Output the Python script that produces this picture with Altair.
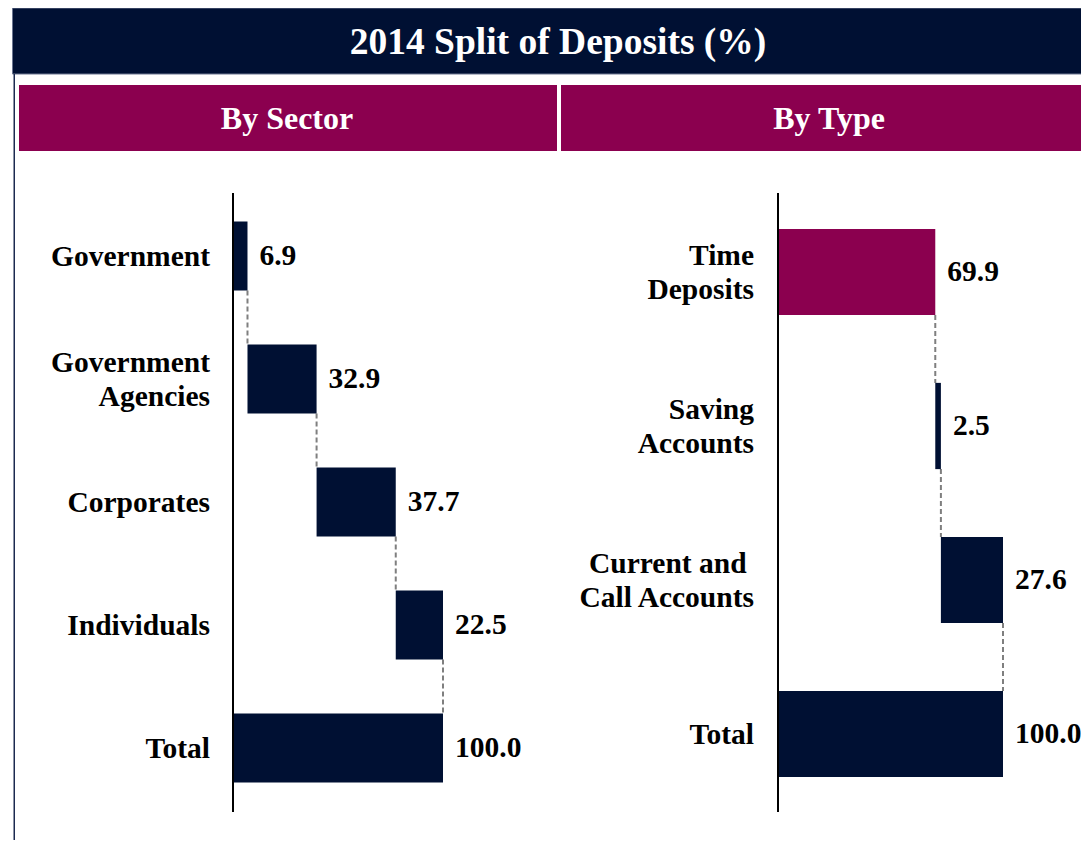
import altair as alt
import pandas as pd

# ---------------- data ----------------
sector_cats = ["Government", "Government\nAgencies", "Corporates", "Individuals", "Total"]
sector_vals = [6.9, 32.9, 37.7, 22.5, 100.0]

type_cats = ["Time\nDeposits", "Saving\nAccounts", "Current and\u00a0\u200b\nCall Accounts", "Total"]
type_vals = [69.9, 2.5, 27.6, 100.0]
type_highlight = [True, False, False, False]

NAVY = "#001033"
MAROON = "#8b004f"
FONT = "Liberation Serif"
HALF = 0.28
FS = 29.5


def waterfall_frames(cats, vals, highlight=None):
    rows, conns = [], []
    run = 0.0
    n = len(cats)
    for i, (c, v) in enumerate(zip(cats, vals)):
        if i == n - 1:
            s, e = 0.0, v
        else:
            s, e = run, run + v
            run = e
        col = MAROON if (highlight and highlight[i]) else NAVY
        rows.append(dict(idx=i, cat=c, start=s, end=e, lo=i - HALF, hi=i + HALF,
                         label=f"{v:.1f}", color=col, nl=c.count("\n") + 1))
    for i in range(n - 1):
        conns.append(dict(x=rows[i]["end"], y=i + HALF, y2=i + 1 - HALF))
    return pd.DataFrame(rows), pd.DataFrame(conns)


def panel(cats, vals, xrange, yrange, highlight=None, label_dx=-23):
    df, cf = waterfall_frames(cats, vals, highlight)
    n = len(cats)
    xs = alt.Scale(domain=[0, 100], range=xrange, nice=False, zero=False)
    ys = alt.Scale(domain=[-0.5, n - 0.5], range=yrange, nice=False, zero=False)

    conn = alt.Chart(cf).mark_rule(color="#7f7f7f", strokeWidth=2, strokeDash=[5, 3]).encode(
        x=alt.X("x:Q", scale=xs, axis=None),
        y=alt.Y("y:Q", scale=ys, axis=None),
        y2="y2:Q",
    )
    bars = alt.Chart(df).mark_rect().encode(
        x=alt.X("start:Q", scale=xs, axis=None),
        x2="end:Q",
        y=alt.Y("lo:Q", scale=ys, axis=None),
        y2="hi:Q",
        color=alt.Color("color:N", scale=None, legend=None),
    )
    axis_line = alt.Chart(pd.DataFrame({"z": [0]})).mark_rule(color="black", strokeWidth=2).encode(
        x=alt.X("z:Q", scale=xs, axis=None),
        y=alt.value(185),
        y2=alt.value(804),
    )
    values = alt.Chart(df).mark_text(
        align="left", baseline="middle", dx=12, font=FONT, fontSize=FS, fontWeight="bold", color="black"
    ).encode(
        x=alt.X("end:Q", scale=xs, axis=None),
        y=alt.Y("idx:Q", scale=ys, axis=None),
        text="label:N",
    )
    layers = [conn, bars, axis_line, values]
    for nl, dy in [(1, 1), (2, -16)]:
        layers.append(
            alt.Chart(df).transform_filter(alt.datum.nl == nl).mark_text(
                align="right", baseline="middle", dx=label_dx, dy=dy, font=FONT, fontSize=FS,
                fontWeight="bold", color="black", lineBreak="\n", lineHeight=34
            ).encode(
                x=alt.datum(0, scale=xs),
                y=alt.Y("idx:Q", scale=ys, axis=None),
                text="cat:N",
            )
        )
    return alt.layer(*layers)


one = pd.DataFrame({"a": [0]})

W, H = 1073, 832

title_bar = alt.Chart(one).mark_rect(color=NAVY, stroke="#6b7590", strokeWidth=1).encode(
    x=alt.value(4.5), x2=alt.value(W + 4), y=alt.value(0), y2=alt.value(66)
)
left_border = alt.Chart(one).mark_rect(color="#1c2a50").encode(
    x=alt.value(5.5), x2=alt.value(7), y=alt.value(66), y2=alt.value(H + 8)
)
head_left = alt.Chart(one).mark_rect(color=MAROON).encode(
    x=alt.value(11), x2=alt.value(549), y=alt.value(77), y2=alt.value(143)
)
head_right = alt.Chart(one).mark_rect(color=MAROON).encode(
    x=alt.value(553), x2=alt.value(W + 4), y=alt.value(77), y2=alt.value(143)
)
title_text = alt.Chart(one).mark_text(
    font=FONT, fontSize=37.5, fontWeight="bold", color="white", align="center", baseline="middle"
).encode(x=alt.value(550), y=alt.value(35), text=alt.value("2014 Split of Deposits (%)"))
head_left_text = alt.Chart(one).mark_text(
    font=FONT, fontSize=32, fontWeight="bold", color="white", align="center", baseline="middle"
).encode(x=alt.value(279), y=alt.value(111), text=alt.value("By Sector"))
head_right_text = alt.Chart(one).mark_text(
    font=FONT, fontSize=32, fontWeight="bold", color="white", align="center", baseline="middle"
).encode(x=alt.value(821), y=alt.value(111), text=alt.value("By Type"))

left_panel = panel(sector_cats, sector_vals, [225, 435], [186.5, 801.5], label_dx=-23)
right_panel = panel(type_cats, type_vals, [770, 995], [187, 803], highlight=type_highlight, label_dx=-24)

chart = alt.layer(
    title_bar, left_border, head_left, head_right, title_text, head_left_text, head_right_text,
    left_panel, right_panel,
).resolve_scale(x="independent", y="independent").properties(
    width=W, height=H, autosize=alt.AutoSizeParams(type="none"), padding=0
).configure_view(stroke=None)

chart.save("out.html", embed_options={"renderer": "svg", "actions": False})
